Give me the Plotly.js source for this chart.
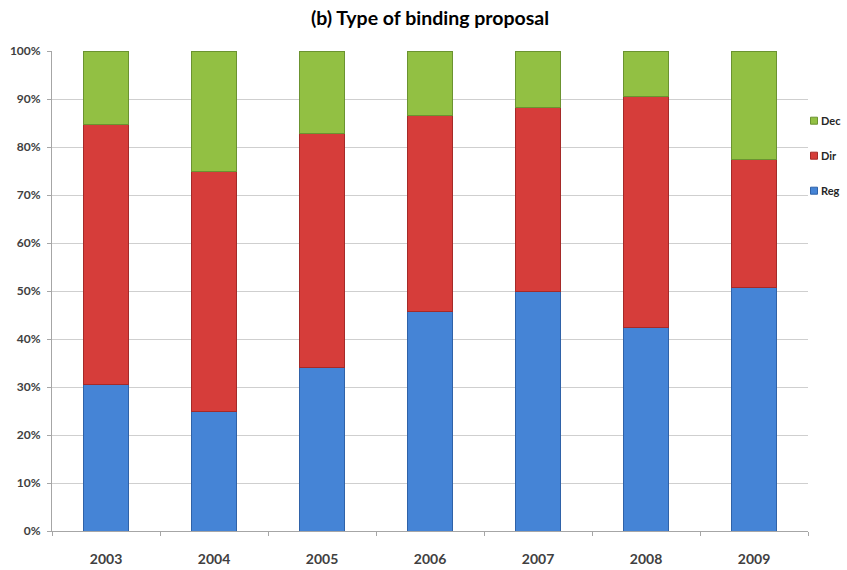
<!DOCTYPE html>
<html>
<head>
<meta charset="utf-8">
<script src="https://cdn.plot.ly/plotly-3.0.1.min.js"></script>
<style>
  html, body { margin: 0; padding: 0; background: #ffffff; }
  #chart { width: 847px; height: 570px; }
</style>
</head>
<body>
<div id="chart"></div>
<script>
// Share of binding proposals by legal type, per year (percent of total)
const years = ['2003', '2004', '2005', '2006', '2007', '2008', '2009'];
const regShare = [30.6, 24.8, 34.0, 45.8, 49.8, 42.5, 50.8];
const dirShare = [54.1, 50.2, 48.9, 40.7, 38.5, 48.1, 26.6];
const decShare = [15.3, 25.0, 17.1, 13.5, 11.7, 9.4, 22.6];
const yTickValues = [0, 10, 20, 30, 40, 50, 60, 70, 80, 90, 100];

const fontFace = 'Lato, "Open Sans", "DejaVu Sans", sans-serif';

// One stacked segment per proposal type; the rank puts the top segment first in the legend
function segment(name, values, fill, edge, rank) {
  return {
    type: 'bar',
    name: name,
    x: years,
    y: values,
    legendgroup: name,
    legendrank: rank,
    marker: { color: fill, line: { color: edge, width: 1 } },
    hovertemplate: '%{x}: %{y:.1f}%<extra>' + name + '</extra>'
  };
}

const traces = [
  segment('Reg', regShare, '#4584d6', '#2f62a8', 3),
  segment('Dir', dirShare, '#d63d3a', '#a52a28', 2),
  segment('Dec', decShare, '#92c043', '#6b9330', 1)
];

const layout = {
  width: 847,
  height: 570,
  margin: { l: 52, r: 39, t: 51, b: 39, autoexpand: false },
  paper_bgcolor: '#ffffff',
  plot_bgcolor: '#ffffff',
  barmode: 'stack',
  bargap: 0.583,
  font: { family: fontFace, color: '#404040' },
  title: {
    text: '<b>(b) Type of binding proposal</b>',
    font: { family: fontFace, size: 19.5, color: '#000000' },
    x: 0.5,
    xref: 'paper',
    xanchor: 'center',
    y: 0.968,
    yanchor: 'middle'
  },
  xaxis: {
    type: 'category',
    showline: true,
    linecolor: '#a6a6a6',
    linewidth: 1,
    ticks: 'outside',
    tickson: 'boundaries',
    ticklen: 4,
    tickcolor: '#a6a6a6',
    showgrid: false,
    ticklabelstandoff: 15,
    tickfont: { family: fontFace, size: 14, color: '#404040', weight: 'bold' }
  },
  yaxis: {
    range: [0, 100],
    tickvals: yTickValues,
    ticktext: yTickValues.map(v => v + '%'),
    showline: true,
    linecolor: '#a6a6a6',
    linewidth: 1,
    ticks: 'outside',
    ticklen: 4,
    tickcolor: '#a6a6a6',
    showgrid: true,
    gridcolor: '#cfcfcf',
    gridwidth: 1,
    zeroline: false,
    ticklabelstandoff: 4,
    tickfont: { family: fontFace, size: 12, color: '#404040', weight: 'bold' }
  },
  showlegend: true,
  legend: {
    x: 0.9643,
    xanchor: 'left',
    y: 0.885,
    yanchor: 'top',
    bgcolor: 'rgba(0,0,0,0)',
    traceorder: 'grouped',
    tracegroupgap: 16,
    itemwidth: 30,
    font: { family: fontFace, size: 11, color: '#262626', weight: 'bold' }
  }
};

// Compact legend keys: small squares sitting right next to their labels
function compactLegendKeys(gd) {
  gd.querySelectorAll('.legend .legendpoints path').forEach(p => {
    p.setAttribute('d', 'M3.5,3.5H-3.5V-3.5H3.5Z');
    p.setAttribute('transform', 'translate(33,0)');
  });
}

const gd = document.getElementById('chart');
Plotly.newPlot(gd, traces, layout, { displayModeBar: false, staticPlot: true }).then(() => {
  compactLegendKeys(gd);
  gd.on('plotly_afterplot', () => compactLegendKeys(gd));
});
</script>
</body>
</html>
